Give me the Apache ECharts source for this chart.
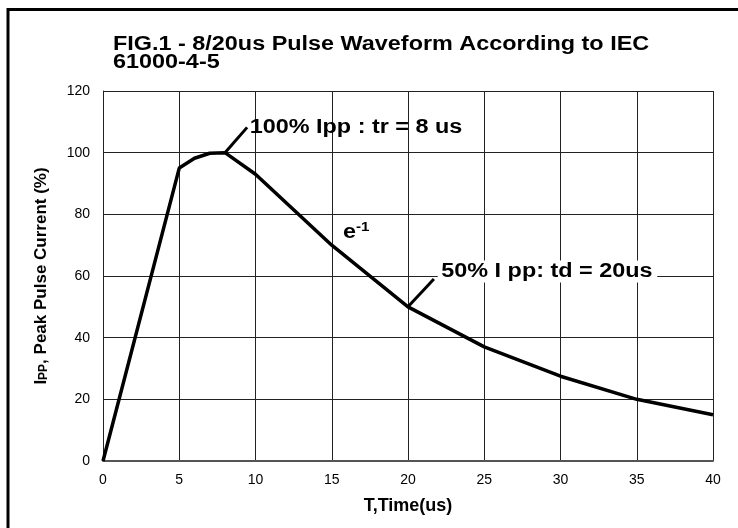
<!DOCTYPE html>
<html>
<head>
<meta charset="utf-8">
<script src="https://cdn.jsdelivr.net/npm/echarts@6/dist/echarts.min.js"></script>
<style>html,body{margin:0;padding:0;background:#fff}#c{width:738px;height:528px}</style>
</head>
<body>
<div id="c"></div>
<script>
// Data
var timeUs = [0, 5, 6, 7, 8, 10, 15, 20, 25, 30, 35, 40];
var currentPct = [0, 95, 98.2, 99.8, 100, 93, 70, 50, 37, 27.5, 20, 15];
var xTicks = [0, 5, 10, 15, 20, 25, 30, 35, 40];
var yTicks = [0, 20, 40, 60, 80, 100, 120];
// Annotation leader lines (data units)
var leaderPeak = [[8, 100], [9.45, 108.2]];
var leaderHalf = [[20, 50], [21.7, 59]];
var titleText = 'FIG.1 - 8/20us Pulse Waveform According to IEC\n61000-4-5';
var annPeakText = '100% Ipp : tr = 8 us';
var annHalfText = '50% I pp: td = 20us';
var annPeakAt = [9.62, 108.3];
var annHalfAt = [21.95, 61.5];
var annEAt = [15.74, 74.0];

var FONT = '"Liberation Sans", Arial, sans-serif';
var SX = 1.17;
var chart = echarts.init(document.getElementById('c'), null, {renderer: 'canvas'});
var option = {
  animation: false,
  backgroundColor: '#fff',
  grid: {left: 103, right: 25, top: 91, bottom: 67, containLabel: false},
  xAxis: {
    type: 'value', min: 0, max: 40, interval: 5,
    name: 'T,Time(us)', nameLocation: 'middle', nameGap: 36,
    nameTextStyle: {fontFamily: FONT, fontWeight: 'bold', fontSize: 18, color: '#000'},
    axisLine: {show: true, lineStyle: {color: '#555', width: 2}},
    axisTick: {show: false},
    axisLabel: {fontFamily: FONT, fontSize: 14, color: '#000', margin: 12},
    splitLine: {show: true, lineStyle: {color: '#222', width: 1}}
  },
  yAxis: {
    type: 'value', min: 0, max: 120, interval: 20,
    name: 'I{s|PP}, Peak Pulse Current (%)', nameLocation: 'middle', nameGap: 53,
    nameTextStyle: {fontFamily: FONT, fontWeight: 'bold', fontSize: 17, color: '#000',
      rich: {s: {fontFamily: FONT, fontWeight: 'bold', fontSize: 12, color: '#000', padding: [4, 0, 0, 0]}}},
    axisLine: {show: true, lineStyle: {color: '#222', width: 1}},
    axisTick: {show: false},
    axisLabel: {fontFamily: FONT, fontSize: 14, color: '#000', margin: 13},
    splitLine: {show: true, lineStyle: {color: '#222', width: 1}}
  },
  series: [
    {type: 'line', data: timeUs.map(function(t, i){return [t, currentPct[i]];}),
      symbol: 'none', lineStyle: {color: '#000', width: 3.5}, z: 5},
    {type: 'line', data: leaderPeak, symbol: 'none', lineStyle: {color: '#000', width: 3}, z: 5},
    {type: 'line', data: leaderHalf, symbol: 'none', lineStyle: {color: '#000', width: 3}, z: 5}
  ]
};
chart.setOption(option);

var pPeak = chart.convertToPixel({gridIndex: 0}, annPeakAt);
var pHalf = chart.convertToPixel({gridIndex: 0}, annHalfAt);
var pE = chart.convertToPixel({gridIndex: 0}, annEAt);
chart.setOption({
  graphic: [
    {type: 'rect', shape: {x: 8, y: 9.5, width: 760, height: 560}, style: {fill: 'none', stroke: '#000', lineWidth: 3}, z: 100},
    {type: 'text', x: 113, y: 35, scaleX: SX, style: {text: titleText, fontFamily: FONT, fontWeight: 'bold', fontSize: 20, fill: '#000', lineHeight: 18, textAlign: 'left', textVerticalAlign: 'top'}, z: 100},
    {type: 'text', x: pPeak[0], y: pPeak[1], scaleX: SX, style: {text: annPeakText, fontFamily: FONT, fontWeight: 'bold', fontSize: 20, fill: '#000', textAlign: 'left', textVerticalAlign: 'middle'}, z: 100},
    {type: 'text', x: pHalf[0], y: pHalf[1], scaleX: SX, style: {text: annHalfText, fontFamily: FONT, fontWeight: 'bold', fontSize: 20, fill: '#000', textAlign: 'left', textVerticalAlign: 'middle', backgroundColor: '#fff', padding: [1, 4, 1, 3]}, z: 100},
    {type: 'text', x: pE[0], y: pE[1], scaleX: SX, style: {text: 'e{s|-1}', fontFamily: FONT, fontWeight: 'bold', fontSize: 20, fill: '#000', textAlign: 'left', textVerticalAlign: 'middle',
      rich: {s: {fontFamily: FONT, fontWeight: 'bold', fontSize: 13, fill: '#000', padding: [0, 0, 10, 0]}}}, z: 100}
  ]
});
</script>
</body>
</html>
